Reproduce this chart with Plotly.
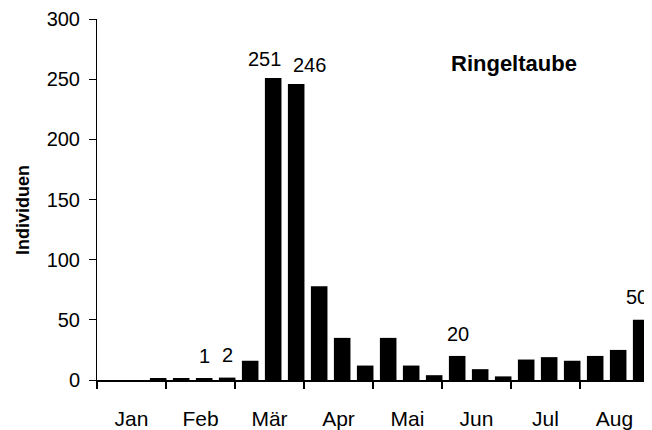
import plotly.graph_objects as go

# three counts (decades) per month
months = ["Jan", "Feb", "Mär", "Apr", "Mai", "Jun", "Jul", "Aug"]
counts = [0, 0, 1,
          1, 1, 2,
          16, 251, 246,
          78, 35, 12,
          35, 12, 4,
          20, 9, 3,
          17, 19, 16,
          20, 25, 50]
# bars that carry a value label
labelled = [4, 5, 7, 8, 15, 23]

FONT = "Liberation Sans, Arial, sans-serif"

# pixel nudges of the value labels, as placed in the original chart
label_shift = {4: (4, 10), 5: (4, 10), 7: (-5, 6), 8: (17, 6),
               15: (4, 9), 23: (-1, 10)}

xpos = list(range(len(counts)))
month_centres = [3 * i + 1 for i in range(len(months))]
month_edges = [3 * i - 0.5 for i in range(len(months) + 1)]

fig = go.Figure()
fig.add_trace(go.Bar(
    x=xpos, y=counts, width=0.72, offset=-0.2,
    marker=dict(color="black", line=dict(width=0)),
    showlegend=False, hoverinfo="x+y"))

for i in labelled:
    dx, dy = label_shift[i]
    fig.add_annotation(
        x=i, y=counts[i], text=str(counts[i]), showarrow=False,
        xanchor="center", yanchor="bottom", xshift=dx, yshift=dy,
        font=dict(family=FONT, size=20, color="black"))

fig.add_annotation(
    xref="paper", yref="paper", x=0.755, y=0.878, text="<b>Ringeltaube</b>",
    xanchor="center", yanchor="middle", showarrow=False,
    font=dict(family=FONT, size=22, color="black"))

fig.add_annotation(
    xref="paper", yref="paper", x=-0.134, y=0.471, text="<b>Individuen</b>",
    xanchor="center", yanchor="middle", textangle=-90, showarrow=False,
    font=dict(family=FONT, size=18, color="black"))

fig.update_xaxes(
    range=[-0.5, 23.5], tickmode="array", tickvals=month_centres,
    ticktext=months, ticks="", ticklabelstandoff=19,
    tickfont=dict(family=FONT, size=21, color="black"),
    minor=dict(tickmode="array", tickvals=month_edges, ticks="outside",
               ticklen=7, tickwidth=2, tickcolor="black"),
    showline=True, linecolor="black", linewidth=2,
    showgrid=False, zeroline=False, automargin=False)

fig.update_yaxes(
    range=[0, 300], tickmode="array", tickvals=list(range(0, 301, 50)),
    ticks="outside", ticklen=7, tickwidth=1, tickcolor="black",
    ticklabelstandoff=5,
    tickfont=dict(family=FONT, size=20, color="black"),
    showline=True, linecolor="black", linewidth=1,
    showgrid=False, zeroline=False, automargin=False)

# the page body adds 8px on the left and top, so the figure is 8px smaller
fig.update_layout(
    width=644, height=422,
    margin=dict(l=89, r=3, t=11, b=50),
    plot_bgcolor="white", paper_bgcolor="white")

fig.write_html("out.html")
